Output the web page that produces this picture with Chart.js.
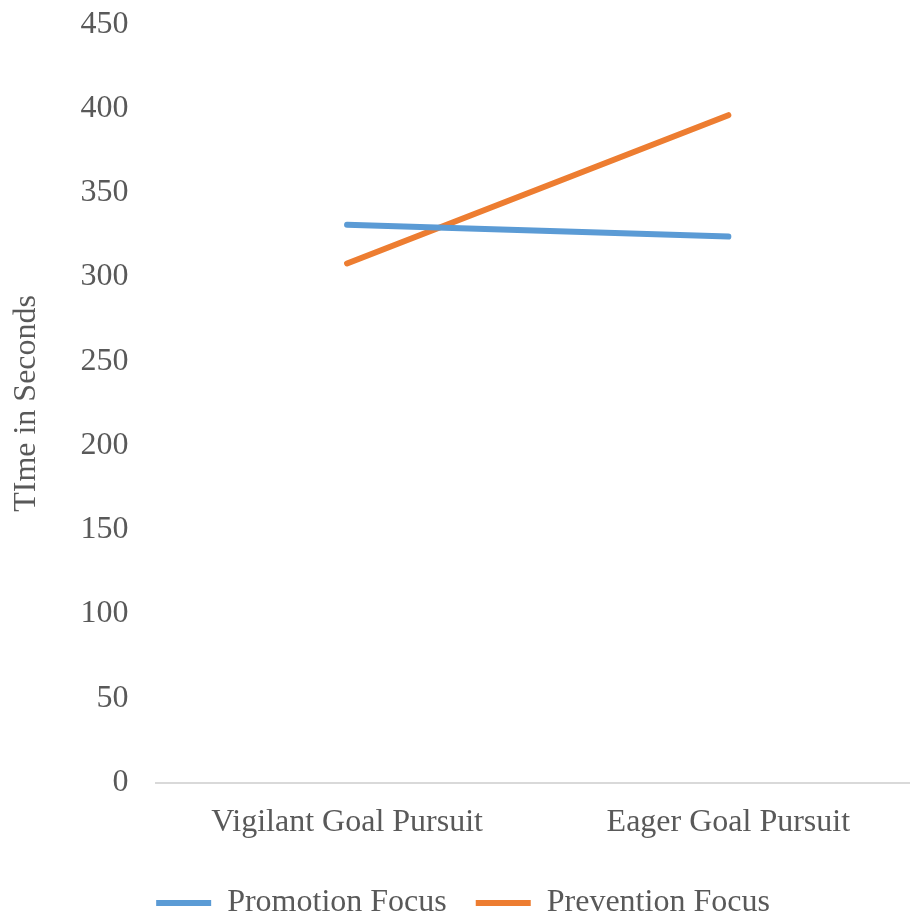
<!DOCTYPE html>
<html>
<head>
<meta charset="utf-8">
<script src="https://cdn.jsdelivr.net/npm/chart.js@4/dist/chart.umd.min.js"></script>
<style>
  html, body { margin: 0; padding: 0; background: #ffffff; overflow: hidden; }
  #wrap { position: relative; top: -23px; width: 925px; height: 943px; }
</style>
</head>
<body>
<div id="wrap"><canvas id="chart"></canvas></div>
<script>
// Goal pursuit condition on the x axis
const categories = ['Vigilant Goal Pursuit', 'Eager Goal Pursuit'];
// Mean time (seconds) per regulatory focus group
const promotionFocus = [331, 324];
const preventionFocus = [308, 396];
const yTicks = [0, 50, 100, 150, 200, 250, 300, 350, 400, 450];

const TEXT = '#595959';
const FONT = { family: '"Liberation Serif", "Times New Roman", serif', size: 32 };

new Chart(document.getElementById('chart'), {
  type: 'line',
  data: {
    labels: categories,
    datasets: [
      {
        label: 'Promotion Focus',
        data: promotionFocus,
        borderColor: '#5B9BD5',
        backgroundColor: '#5B9BD5',
        borderWidth: 6,
        borderCapStyle: 'round',
        pointRadius: 0,
        pointHoverRadius: 0,
        pointStyle: 'line',
        tension: 0
      },
      {
        label: 'Prevention Focus',
        data: preventionFocus,
        borderColor: '#ED7D31',
        backgroundColor: '#ED7D31',
        borderWidth: 6,
        borderCapStyle: 'round',
        pointRadius: 0,
        pointHoverRadius: 0,
        pointStyle: 'line',
        tension: 0
      }
    ]
  },
  options: {
    responsive: true,
    maintainAspectRatio: false,
    animation: false,
    layout: { padding: { top: 0, right: 6, left: 7, bottom: -9 } },
    plugins: {
      tooltip: { enabled: false },
      legend: {
        position: 'bottom',
        labels: {
          usePointStyle: true,
          pointStyle: 'line',
          pointStyleWidth: 55,
          color: TEXT,
          font: FONT,
          padding: 29
        }
      }
    },
    scales: {
      x: {
        offset: true,
        grid: { display: false, drawTicks: false },
        border: { display: true, color: '#d9d9d9', width: 2 },
        ticks: { color: TEXT, font: FONT, padding: 21 },
        // tighten the gap between category labels and the legend
        afterFit: (scale) => { scale.height -= 5; }
      },
      y: {
        min: 0,
        max: 450,
        afterBuildTicks: (scale) => { scale.ticks = yTicks.map(v => ({ value: v })); },
        grid: { display: false, drawTicks: false },
        border: { display: false },
        ticks: { color: TEXT, font: FONT, padding: 28 },
        title: {
          display: true,
          text: 'TIme in Seconds',
          color: TEXT,
          font: FONT,
          padding: { top: 0, bottom: 7 }
        }
      }
    }
  }
});
</script>
</body>
</html>
